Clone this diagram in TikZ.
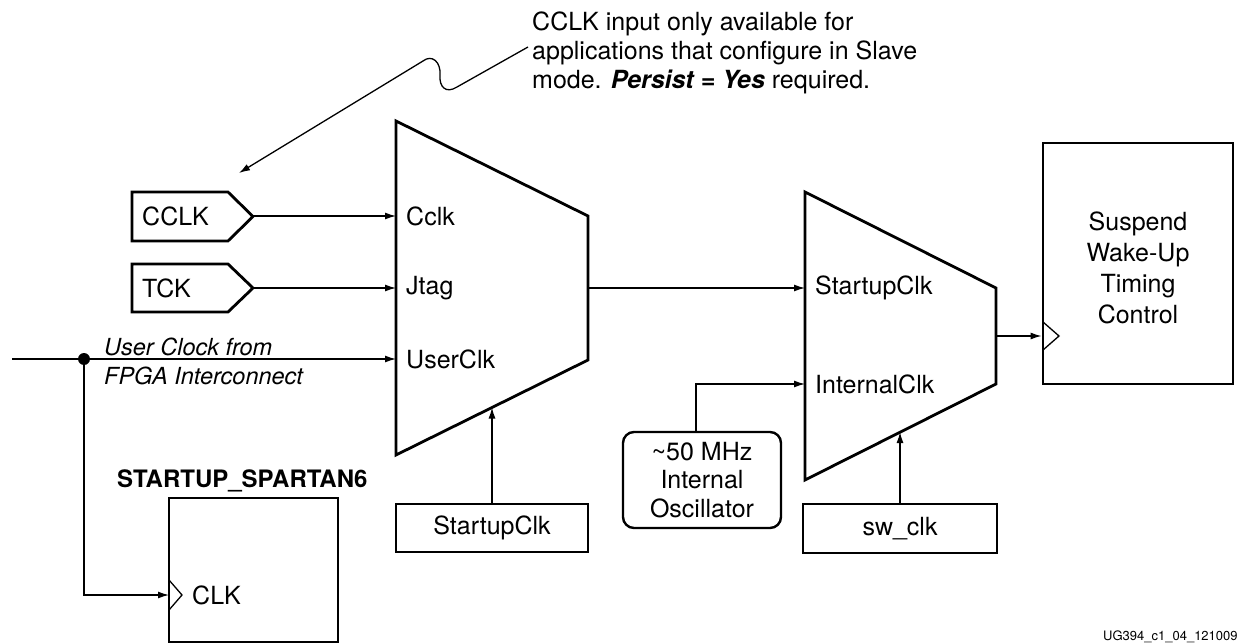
\documentclass[tikz,border=0pt]{standalone}
\usepackage{fontspec}
\setmainfont{TeX Gyre Heros}
\usetikzlibrary{arrows.meta}
\begin{document}
\begin{tikzpicture}[x=1pt,y=-1pt,
  thickln/.style={line width=2.8pt, line join=miter},
  wire/.style={line width=1.3pt},
  conn/.style={line width=1.3pt, -{Latex[length=11pt,width=7pt]}},
  clktri/.style={line width=1.3pt},
  txt/.style={font=\fontsize{25}{29}\selectfont, inner sep=0pt},
  itxt/.style={font=\fontsize{23.5}{27}\selectfont\itshape, inner sep=0pt},
  boxnode/.style={draw, thickln, inner sep=0pt, font=\fontsize{25}{29}\selectfont}
]
\useasboundingbox (0,0) rectangle (1239,644);

% ---------- annotation ----------
\node[txt, anchor=base west] (n1) at (532,31) {CCLK input only available for};
\node[txt, anchor=base west] (n2) at (532,60) {applications that configure in Slave};
\node[txt, anchor=base west] (n3) at (532,89) {mode. \textbf{\textit{Persist = Yes}} required.};
\coordinate (lead) at (528,47);
\coordinate (leadtip) at (239,173);
\draw[conn] (lead) -- (457,87) .. controls (446,94) and (439,87) .. (440,75)
  .. controls (441,62) and (432,54) .. (423,61) -- (leadtip);

% ---------- mux 1 ----------
\coordinate (m1tl) at (396,121);
\coordinate (m1tr) at (588,216);
\coordinate (m1br) at (588,360);
\coordinate (m1bl) at (396,455);
\draw[thickln] (m1tl) -- (m1tr) -- (m1br) -- (m1bl) -- cycle;
\coordinate (m1a) at (396,216);
\coordinate (m1b) at (396,288);
\coordinate (m1c) at (396,359);
\coordinate (m1out) at (588,288);
\coordinate (m1sel) at (492,407.5);
\node[txt, anchor=west] (lcclk) at (406,216) {Cclk};
\node[txt, anchor=west] (ljtag) at (406,288) {Jtag};
\node[txt, anchor=west] (luser) at (406,359) {UserClk};

% ---------- mux 2 ----------
\coordinate (m2tl) at (805,192);
\coordinate (m2tr) at (996,288);
\coordinate (m2br) at (996,384);
\coordinate (m2bl) at (805,480);
\draw[thickln] (m2tl) -- (m2tr) -- (m2br) -- (m2bl) -- cycle;
\coordinate (m2a) at (805,288);
\coordinate (m2b) at (805,384);
\coordinate (m2out) at (996,336);
\coordinate (m2sel) at (900,432);
\node[txt, anchor=west] (lsclk) at (815,288) {StartupClk};
\node[txt, anchor=west] (liclk) at (815,384) {InternalClk};

% ---------- pins ----------
\draw[thickln] (132,192) -- (228,192) -- (253,216.5) -- (228,241) -- (132,241) -- cycle;
\node[txt, anchor=west] (cclk) at (142,216.5) {CCLK};
\coordinate (cclktip) at (253,216);
\draw[thickln] (132,264) -- (228,264) -- (253,288) -- (228,312) -- (132,312) -- cycle;
\node[txt, anchor=west] (tck) at (142,288) {TCK};
\coordinate (tcktip) at (253,288);
\draw[conn] (cclktip) -- (m1a);
\draw[conn] (tcktip) -- (m1b);

% ---------- user clock ----------
\coordinate (uin) at (12,359);
\node[circle, fill, inner sep=0pt, minimum size=12pt] (dot) at (84,359) {};
\draw[wire] (uin) -- (dot);
\draw[conn] (dot) -- (m1c);
\node[itxt, anchor=base west] (u1) at (104,355) {User Clock from};
\node[itxt, anchor=base west] (u2) at (104,384) {FPGA Interconnect};

% ---------- STARTUP_SPARTAN6 ----------
\node[boxnode, minimum width=169pt, minimum height=144pt] (stbox) at (253.5,570) {};
\node[font=\fontsize{24}{28}\selectfont\bfseries, inner sep=0pt, anchor=base west] (sttitle) at (117,487) {STARTUP\_SPARTAN6};
\coordinate (clkin) at (169,595);
\draw[clktri] (169,580) -- (182,595) -- (169,610);
\node[txt, anchor=west] (clklbl) at (192,595) {CLK};
\draw[conn] (dot) |- (clkin);

% ---------- select boxes ----------
\node[boxnode, minimum width=192pt, minimum height=48pt] (suclk) at (492,528) {StartupClk};
\draw[conn] (suclk.north) -- (m1sel);
\node[boxnode, minimum width=194pt, minimum height=49pt] (swclk) at (900,528.5) {sw\_clk};
\draw[conn] (swclk.north) -- (m2sel);

% ---------- oscillator ----------
\node[draw, line width=2.4pt, rounded corners=11pt, minimum width=158pt, minimum height=96pt,
  inner sep=0pt, align=center, font=\fontsize{25}{28.5}\selectfont] (osc) at (702,480)
  {\textasciitilde50 MHz\\Internal\\Oscillator};
\draw[conn] ([xshift=-6pt]osc.north) |- (m2b);

% ---------- mux1 -> mux2 ----------
\draw[conn] (m1out) -- (m2a);

% ---------- suspend box ----------
\node[boxnode, minimum width=190pt, minimum height=241pt] (susp) at (1138,263.5) {};
\node[align=center, inner sep=0pt, font=\fontsize{25}{31}\selectfont] (susptxt) at (1138,268)
  {Suspend\\Wake-Up\\Timing\\Control};
\draw[clktri] (1043,322) -- (1059,336) -- (1043,350);
\draw[conn] (m2out) -- (m2out -| susp.west);

% ---------- footer ----------
\node[font=\fontsize{13}{15}\selectfont, inner sep=0pt, anchor=base west] (foot) at (1103,640.5) {UG394\_c1\_04\_121009};
\end{tikzpicture}
\end{document}
